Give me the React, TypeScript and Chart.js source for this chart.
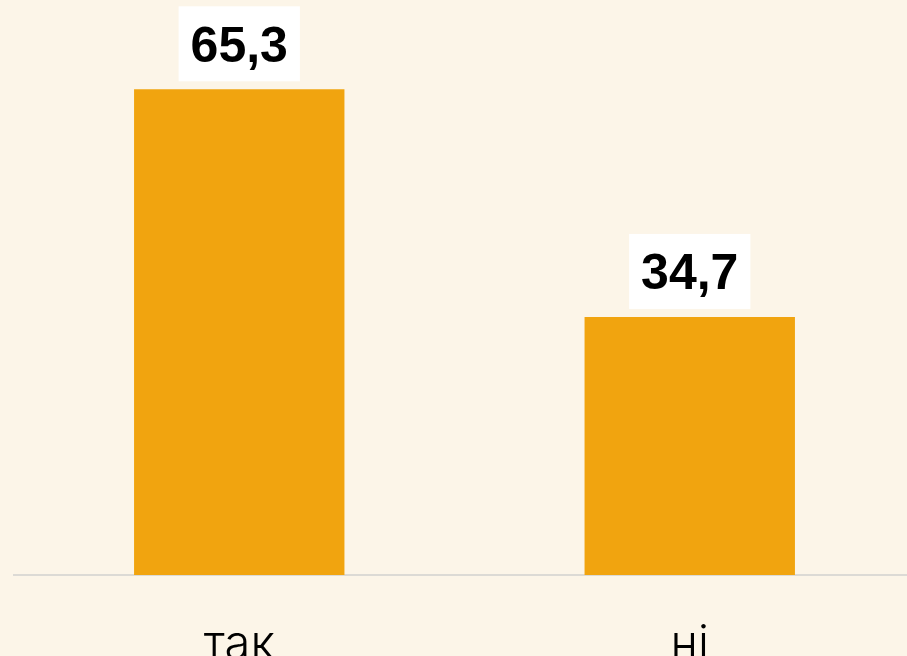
import React, { useEffect, useRef } from "react";
import { Chart, registerables } from "chart.js";

Chart.register(...registerables);

const categories = ["так", "ні"];
const values = [65.3, 34.7];

const BG = "#FCF5E8";
const BAR = "#F1A40F";

const labelPlugin = {
  id: "boxLabels",
  afterDatasetsDraw(chart: any) {
    const ctx = chart.ctx;
    const meta = chart.getDatasetMeta(0);
    ctx.save();
    ctx.font = "bold 50px 'Liberation Sans', Arial, sans-serif";
    meta.data.forEach((bar: any, i: number) => {
      const txt = values[i].toFixed(1).replace(".", ",");
      const w = ctx.measureText(txt).width;
      const bw = w + 24;
      const bh = 75;
      const bottom = bar.y - 8;
      const top = bottom - bh;
      ctx.fillStyle = "#FFFFFF";
      ctx.fillRect(bar.x - bw / 2, top, bw, bh);
      ctx.fillStyle = "#000000";
      ctx.textAlign = "center";
      ctx.textBaseline = "alphabetic";
      ctx.fillText(txt, bar.x, top + bh / 2 + 18);
    });
    ctx.restore();
  },
};

export default function App() {
  const ref = useRef<HTMLCanvasElement>(null);
  useEffect(() => {
    if (!ref.current) return;
    const chart = new Chart(ref.current, {
      type: "bar",
      data: {
        labels: categories,
        datasets: [
          {
            data: values,
            backgroundColor: BAR,
            borderWidth: 0,
            categoryPercentage: 1,
            barPercentage: 0.467,
          },
        ],
      },
      options: {
        responsive: false,
        animation: false,
        devicePixelRatio: 1,
        layout: { padding: { left: 14, right: 0, top: 0, bottom: 0 } },
        plugins: { legend: { display: false }, tooltip: { enabled: false } },
        scales: {
          x: {
            grid: { display: false, drawTicks: false },
            border: { display: true, color: "#DCDAD5", width: 2 },
            ticks: {
              color: "#000000",
              padding: 42,
              font: { family: "Inter, Lato, 'Noto Sans', sans-serif", size: 47, weight: "300" as any },
            },
            afterFit: (scale: any) => {
              scale.height = 100;
            },
          },
          y: {
            display: false,
            min: 0,
            max: 80,
          },
        },
      },
      plugins: [labelPlugin],
    });
    return () => chart.destroy();
  }, []);

  return (
    <div
      style={{
        position: "fixed",
        left: 0,
        top: 0,
        width: 907,
        height: 656,
        overflow: "hidden",
        background: BG,
      }}
    >
      <canvas
        ref={ref}
        width={915}
        height={695}
        style={{ position: "absolute", left: 0, top: -20, width: 915, height: 695 }}
      />
    </div>
  );
}
